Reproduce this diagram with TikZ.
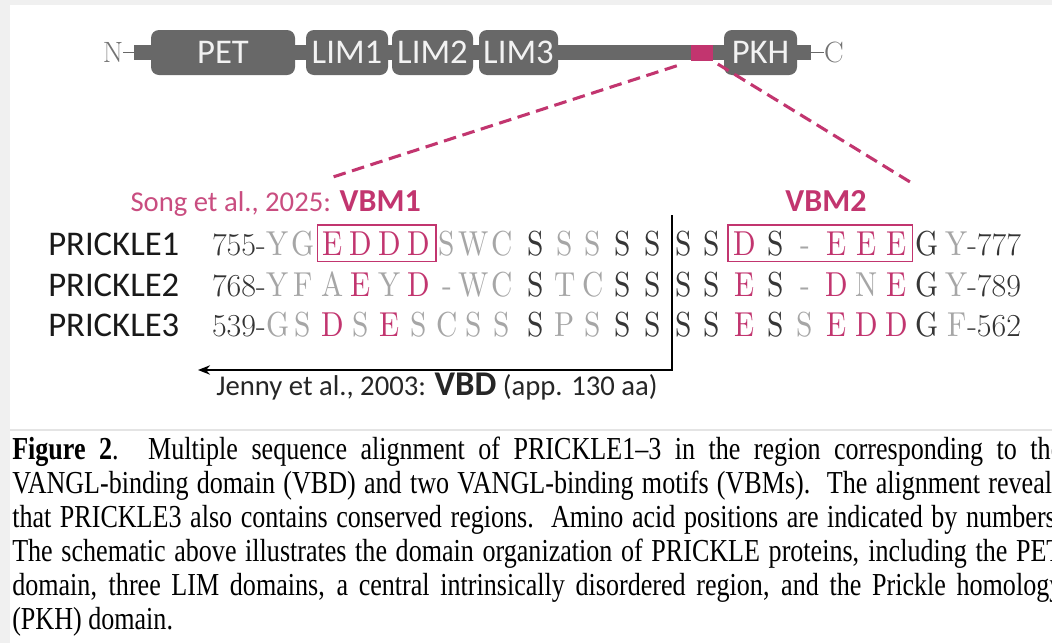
\documentclass[tikz,border=0pt]{standalone}
\usepackage{fontspec}
\usepackage{tikz}
\usetikzlibrary{arrows.meta,fit}
\newfontfamily\calibri{Carlito}
\newfontfamily\capfont[FakeStretch=0.815]{Liberation Serif}
\newfontfamily\seqfont{lmroman10-regular}[Extension=.otf, FakeStretch=0.85]
\definecolor{domgray}{HTML}{686868}
\definecolor{motif}{HTML}{C2356F}
\definecolor{aadark}{HTML}{363636}
\definecolor{aalight}{HTML}{A6A6A6}
\definecolor{pagegray}{HTML}{F0F0F0}
\definecolor{rulegray}{HTML}{E4E4E4}
\newlength\capwidth
\setlength\capwidth{787.5pt}
\newcommand{\capline}[1]{\hbox to \capwidth{#1}}
\newcommand{\colx}{{278,303,333,361,390,419,447,474,502,536,565,593,623,653,684,712,745,776,805,837,867,897,927,957}}

\begin{document}
\begin{tikzpicture}[x=0.75pt, y=-0.75pt,
    dombox/.style={fill=domgray, rounded corners=6pt, minimum height=33.75pt, inner sep=0,
      text=white!95!black, font=\calibri\fontsize{26}{26}\selectfont},
    endlab/.style={text=black!55, inner sep=0, font=\fontsize{22}{22}\selectfont},
    linkdash/.style={motif, line width=2.3pt, dash pattern=on 9.5pt off 5pt},
    protlab/.style={inner sep=0, anchor=base west, text=black!90, font=\calibri\fontsize{26}{26}\selectfont},
    aa/.style={inner sep=0, anchor=base, text=#1, font=\seqfont\fontsize{26}{26}\selectfont},
    aanum/.style={inner sep=0, text=black!80, font=\fontsize{24}{24}\selectfont},
    motifbox/.style={draw=motif, line width=1.1pt, inner xsep=4pt, inner ysep=4.5pt},
    reflab/.style={inner sep=0, font=\calibri\fontsize{21.5}{21.5}\selectfont},
    caption/.style={inner sep=0, anchor=base west, font=\capfont\fontsize{24}{25.5}\selectfont}]
  \useasboundingbox (0,0) rectangle (1052,643);
  \clip (0,0) rectangle (1052,643);
  % page
  \fill[pagegray] (0,0) rectangle (1052,643);
  \fill[white] (10,5) rectangle (1052,643);
  \draw[rulegray, line width=0.8pt] (10,430) -- (1052,430);

  % domain organization
  \node[fill=domgray, minimum width=507.75pt, minimum height=11.25pt, inner sep=0] (backbone) at (472.5,52.5) {};
  \node[endlab] (nterm) at (113,52.5) {N};
  \node[endlab] (cterm) at (834,52.5) {C};
  \draw[domgray, line width=0.8pt] (nterm.east) -- (backbone.west);
  \draw[domgray, line width=0.8pt] (backbone.east) -- (cterm.west);
  \node[dombox, minimum width=108pt] (pet) at (223,52.5) {PET};
  \node[dombox, minimum width=61.5pt] (lim1) at (347,52.5) {LIM1};
  \node[dombox, minimum width=60.75pt] (lim2) at (432.5,52.5) {LIM2};
  \node[dombox, minimum width=59.25pt] (lim3) at (518.5,52.5) {LIM3};
  \node[dombox, minimum width=54.75pt] (pkh) at (760.5,52.5) {PKH};
  \node[fill=motif, minimum width=16.5pt, minimum height=12pt, inner sep=0] (vbs) at (702,53) {};

  % zoom lines to the motifs
  \coordinate (vbm1tip) at (333,177);
  \coordinate (vbm2tip) at (915,185);
  \draw[linkdash, shorten <=11pt] (vbs.south west) -- (vbm1tip);
  \draw[linkdash, shorten <=4pt] (vbs.south east) -- (vbm2tip);

  \node[reflab, anchor=base east, text=motif!88] (song) at (421,211) {Song et al., 2025: {\fontsize{24}{24}\selectfont\bfseries\color{motif}VBM1}};
  \node[reflab, anchor=base, text=motif] (vbm2lab) at (826,211) {\fontsize{24}{24}\selectfont\bfseries VBM2};

  % alignment
  \node[protlab] (p1) at (48,255) {PRICKLE1};
  \node[protlab] (p2) at (48,296) {PRICKLE2};
  \node[protlab] (p3) at (48,336) {PRICKLE3};
  \foreach \aa/\cl [count=\i] in {Y/aalight, G/aalight, E/motif, D/motif, D/motif, D/motif, S/aalight, W/aalight, C/aalight, S/aadark, S/aalight, S/aalight, S/aadark, S/aadark, S/aadark, S/aadark, D/motif, S/aadark, -/aalight, E/motif, E/motif, E/motif, G/aadark, Y/aalight} {
    \pgfmathsetmacro\xx{\colx[\i-1]}
    \node[aa=\cl] (r1c\i) at (\xx,255) {\aa};
  }
  \foreach \aa/\cl [count=\i] in {Y/aalight, F/aalight, A/aalight, E/motif, Y/aalight, D/motif, -/aalight, W/aalight, C/aalight, S/aadark, T/aalight, C/aalight, S/aadark, S/aadark, S/aadark, S/aadark, E/motif, S/aadark, -/aalight, D/motif, N/aalight, E/motif, G/aadark, Y/aalight} {
    \pgfmathsetmacro\xx{\colx[\i-1]}
    \node[aa=\cl] (r2c\i) at (\xx,296) {\aa};
  }
  \foreach \aa/\cl [count=\i] in {G/aalight, S/aalight, D/motif, S/aalight, E/motif, S/aalight, C/aalight, S/aalight, S/aalight, S/aadark, P/aalight, S/aalight, S/aadark, S/aadark, S/aadark, S/aadark, E/motif, S/aadark, S/aalight, E/motif, D/motif, D/motif, G/aadark, F/aalight} {
    \pgfmathsetmacro\xx{\colx[\i-1]}
    \node[aa=\cl] (r3c\i) at (\xx,336) {\aa};
  }
  \node[aanum, anchor=base east] (s1) at (266,255) {755-};
  \node[aanum, anchor=base east] (s2) at (266,296) {768-};
  \node[aanum, anchor=base east] (s3) at (266,336) {539-};
  \node[aanum, anchor=base west] (e1) at (967,255) {-777};
  \node[aanum, anchor=base west] (e2) at (967,296) {-789};
  \node[aanum, anchor=base west] (e3) at (967,336) {-562};

  \node[motifbox, fit=(r1c3)(r1c6)] (vbm1box) {};
  \node[motifbox, fit=(r1c17)(r1c22)] (vbm2box) {};

  % VANGL-binding domain
  \coordinate (vbdtop) at (672,215);
  \coordinate (vbdturn) at (672,370);
  \coordinate (vbdend) at (198,370);
  \draw[line width=1.5pt, -{Stealth[length=9pt,width=7pt]}] (vbdtop) -- (vbdturn) -- (vbdend);
  \node[reflab, anchor=base, text=black!85] (jenny) at (437,395) {Jenny et al., 2003: {\fontsize{26}{26}\selectfont\bfseries VBD} (app. 130 aa)};

  % caption
  \node[caption] (cap1) at (12,459) {\capline{\textbf{Figure 2}. Multiple sequence alignment of PRICKLE1–3 in the region corresponding to the}};
  \node[caption] (cap2) at (12,493) {\capline{VANGL-binding domain (VBD) and two VANGL-binding motifs (VBMs).\ \ The alignment reveals}};
  \node[caption] (cap3) at (12,527) {\capline{that PRICKLE3 also contains conserved regions.\ \ Amino acid positions are indicated by numbers.}};
  \node[caption] (cap4) at (12,561) {\capline{The schematic above illustrates the domain organization of PRICKLE proteins, including the PET}};
  \node[caption] (cap5) at (12,595) {\capline{domain, three LIM domains, a central intrinsically disordered region, and the Prickle homology}};
  \node[caption] (cap6) at (12,629) {(PKH) domain.};
\end{tikzpicture}
\end{document}
